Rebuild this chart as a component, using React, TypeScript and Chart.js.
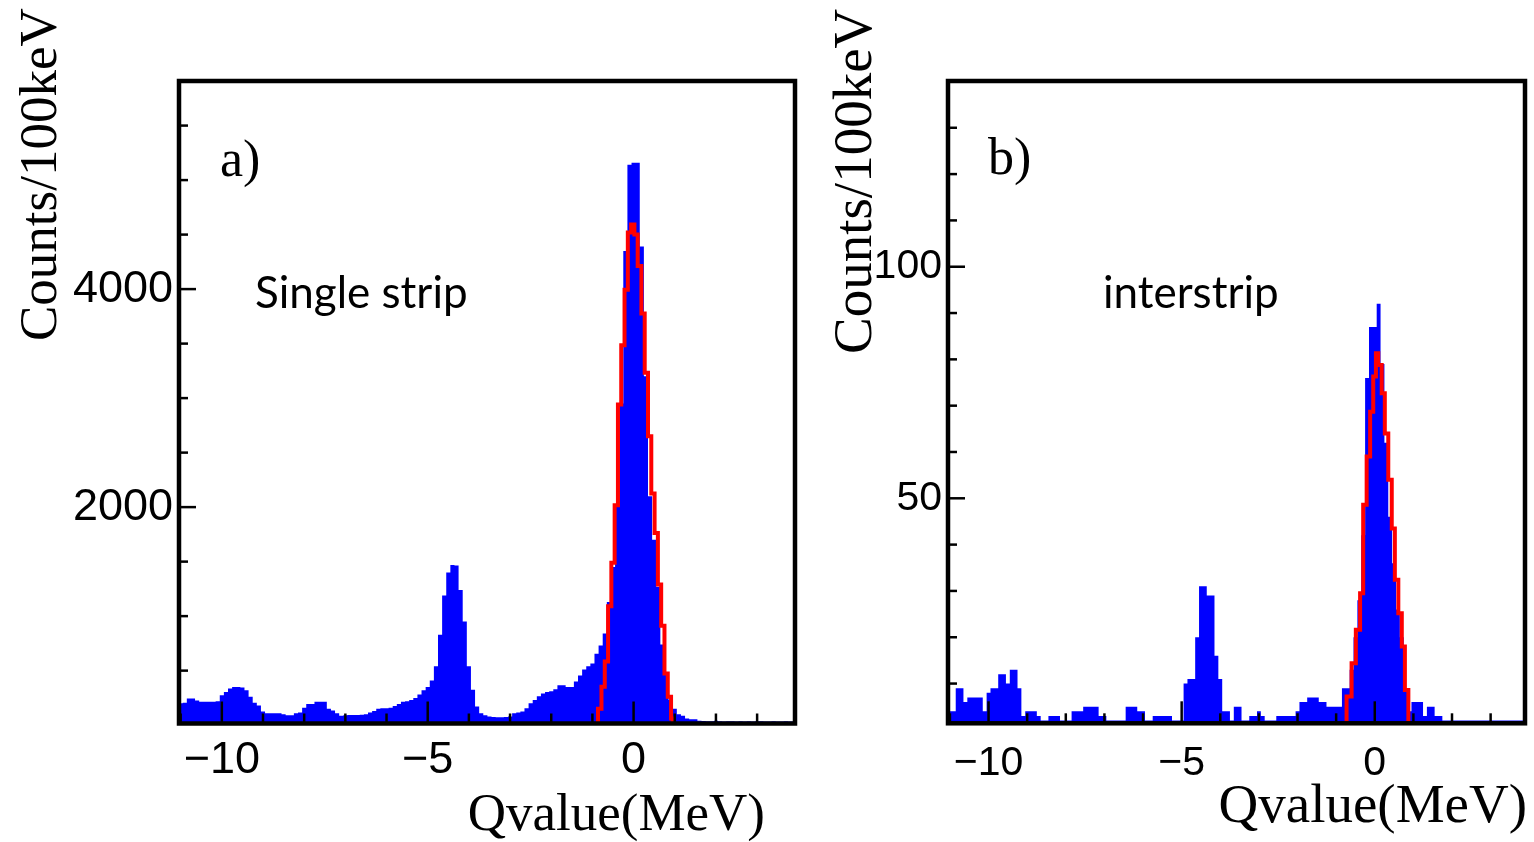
import React, { useEffect, useRef } from "react";
import { Chart, registerables } from "chart.js";

Chart.register(...registerables);

// ---------------- data ----------------
// histogram binning (MeV): 150 bins of 100 keV, first bin starts at BIN_LOW_MEV
const BIN_LOW_MEV = -11.05;
const BIN_WIDTH_MEV = 0.1;

// a) single strip, counts per 100 keV (bin centres -11.0 ... 3.9)
const COUNTS_SINGLE_STRIP = [
  200, 205, 245, 245, 225, 215, 215, 215, 215, 220,
  275, 305, 335, 350, 350, 345, 320, 260, 205, 180,
  125, 110, 110, 110, 110, 100, 90, 90, 110, 115,
  160, 195, 195, 215, 215, 215, 150, 135, 110, 85,
  90, 92, 92, 92, 95, 100, 115, 130, 150, 155,
  155, 160, 175, 195, 215, 220, 230, 250, 280, 320,
  350, 410, 540, 830, 1190, 1400, 1470, 1465, 1240, 950,
  540, 325, 170, 110, 90, 80, 75, 72, 72, 75,
  80, 110, 115, 125, 155, 200, 230, 265, 290, 305,
  310, 330, 365, 365, 350, 350, 400, 455, 510, 540,
  565, 655, 730, 840, 1130, 1450, 2000, 2950, 4350, 5140,
  5160, 5160, 4390, 3200, 2100, 1700, 1270, 740, 470, 230,
  150, 100, 85, 60, 55, 55, 40, 38, 36, 35,
  40, 35, 33, 35, 36, 34, 35, 33, 35, 34,
  36, 35, 33, 34, 35, 33, 34, 35, 33, 34,
];

// b) interstrip, counts per 100 keV
const COUNTS_INTERSTRIP = [
  4, 4, 9, 9, 6, 7, 7, 7, 7, 4,
  8, 9, 9, 12, 12, 10, 13, 13, 9, 3,
  4, 4, 4, 3, 2, 2, 3, 3, 3, 2,
  2, 2, 4, 4, 4, 5, 5, 5, 5, 3,
  3, 2, 2, 2, 2, 2, 5, 5, 5, 4,
  4, 2, 2, 3, 3, 3, 3, 3, 2, 2,
  2, 10, 11, 11, 20, 31, 31, 29, 29, 16,
  11, 4, 4, 2, 5, 5, 2, 2, 3, 3,
  4, 3, 2, 2, 2, 3, 3, 3, 3, 3,
  4, 6, 6, 7, 7, 7, 6, 6, 5, 5,
  5, 5, 9, 9, 13, 20, 28, 42, 76, 87,
  87, 92, 79, 62, 46, 36, 26, 20, 9, 4,
  6, 6, 6, 3, 5, 5, 3, 3, 2, 2,
  2, 2, 2, 2, 2, 2, 2, 2, 2, 2,
  2, 2, 2, 2, 2, 2, 2, 2, 2, 2,
];

// red fit curves (step left edges in MeV, value)
const FIT_SINGLE_X = [-0.99, -0.865, -0.78, -0.7, -0.62, -0.54, -0.46, -0.38, -0.3, -0.22, -0.14, -0.06, 0.02, 0.1, 0.19, 0.27, 0.35, 0.43, 0.51, 0.59, 0.67, 0.75, 0.83, 0.91, 0.95];
const FIT_SINGLE_Y = [0, 150, 351, 584, 1091, 1490, 2017, 2941, 3485, 3994, 4519, 4592, 4501, 4211, 3776, 3232, 2651, 2125, 1762, 1291, 911, 474, 260, 60, 0];

const FIT_INTER_X = [-0.86, -0.73, -0.6, -0.49, -0.38, -0.3, -0.21, -0.12, -0.04, 0.03, 0.09, 0.18, 0.26, 0.35, 0.44, 0.52, 0.61, 0.7, 0.78, 0.87];
const FIT_INTER_Y = [0, 7.2, 14.4, 21.6, 29.5, 48.6, 59, 68.7, 76.3, 81.3, 78.8, 72.7, 64, 54, 43.5, 32.4, 25.2, 18, 8.6, 0];

// tick labels
const X_TICK_LABELS = [-10, -5, 0];
const Y_TICK_LABELS_SINGLE = [2000, 4000];
const Y_TICK_LABELS_INTER = [50, 100];

const Y_TITLE = "Counts/100keV";
const X_TITLE = "Qvalue(MeV)";

// ---------------- helpers ----------------
function histPoints(counts: number[]) {
  const pts = counts.map((c, i) => ({ x: BIN_LOW_MEV + i * BIN_WIDTH_MEV, y: c }));
  pts.push({ x: BIN_LOW_MEV + counts.length * BIN_WIDTH_MEV, y: counts[counts.length - 1] });
  return pts;
}
function fitPoints(xs: number[], ys: number[]) {
  return xs.map((x, i) => ({ x, y: ys[i] }));
}
function fmt(v: number) {
  const r = Math.round(v);
  return r < 0 ? "\u2212" + Math.abs(r) : String(r);
}
function stepTicks(min: number, max: number, step: number) {
  const out: { value: number }[] = [];
  for (let k = Math.ceil(min / step); k * step <= max + 1e-9; k++) out.push({ value: k * step });
  return out;
}
const near = (list: number[], v: number) => list.some((m) => Math.abs(m - v) < 1e-6);

const rootStyle = {
  id: "rootStyle",
  afterDatasetsDraw(chart: any, _a: any, o: any) {
    const { ctx, chartArea: a } = chart;
    const xs = chart.scales.x;
    const ys = chart.scales.y;
    ctx.save();
    ctx.strokeStyle = "#000";
    ctx.lineWidth = o.tickWidth;
    for (const t of ys.ticks) {
      const p = ys.getPixelForValue(t.value);
      const major = near(o.yMajor, t.value);
      ctx.beginPath();
      ctx.moveTo(a.left, p);
      ctx.lineTo(a.left + (major ? o.yMajorLen : o.yMinorLen), p);
      ctx.stroke();
    }
    for (const t of xs.ticks) {
      const p = xs.getPixelForValue(t.value);
      const major = near(X_TICK_LABELS, t.value);
      ctx.beginPath();
      ctx.moveTo(p, a.bottom);
      ctx.lineTo(p, a.bottom - (major ? o.xMajorLen : o.xMinorLen));
      ctx.stroke();
    }
    ctx.lineWidth = o.frameWidth;
    ctx.strokeRect(a.left, a.top, a.right - a.left, a.bottom - a.top);
    ctx.restore();
  },
  afterDraw(chart: any, _a: any, o: any) {
    const ctx = chart.ctx;
    ctx.save();
    ctx.fillStyle = "#000";
    ctx.textBaseline = "alphabetic";
    // y title (rotated, reads bottom to top)
    ctx.save();
    ctx.font = `${o.yTitleSize}px "Liberation Serif"`;
    ctx.textAlign = "left";
    ctx.translate(o.yTitleX, o.yTitleY);
    ctx.rotate(-Math.PI / 2);
    ctx.fillText(Y_TITLE, 0, 0);
    ctx.restore();
    // x title
    ctx.font = `${o.xTitleSize}px "Liberation Serif"`;
    ctx.textAlign = "right";
    ctx.fillText(X_TITLE, o.xTitleRight, o.xTitleBase);
    // panel tag
    ctx.font = `${o.tagSize}px "Liberation Serif"`;
    ctx.textAlign = "left";
    ctx.fillText(o.tag, o.tagX, o.tagBase);
    // annotation
    ctx.font = `${o.noteSize}px Lato`;
    ctx.fillText(o.note, o.noteX, o.noteBase);
    ctx.restore();
  },
};

type PanelCfg = {
  canvasLeft: number;
  canvasW: number;
  area: { left: number; right: number; top: number; bottom: number };
  xMin: number;
  xMax: number;
  yMin: number;
  yMax: number;
  yStep: number;
  yLabels: number[];
  counts: number[];
  fitX: number[];
  fitY: number[];
  tickFont: number;
  xTickPad: number;
  text: any;
};

const H = 842;

const PANELS: PanelCfg[] = [
  {
    canvasLeft: 0,
    canvasW: 830,
    area: { left: 179, right: 795, top: 81, bottom: 723.5 },
    xMin: -11.04,
    xMax: 3.92,
    yMin: 15,
    yMax: 5909,
    yStep: 500,
    yLabels: Y_TICK_LABELS_SINGLE,
    counts: COUNTS_SINGLE_STRIP,
    fitX: FIT_SINGLE_X,
    fitY: FIT_SINGLE_Y,
    tickFont: 45,
    xTickPad: 10,
    text: {
      yTitleSize: 53, yTitleX: 56, yTitleY: 341,
      xTitleSize: 53, xTitleRight: 765, xTitleBase: 830,
      tag: "a)", tagSize: 52, tagX: 220, tagBase: 176,
      note: "Single strip", noteSize: 44, noteX: 255, noteBase: 308,
    },
  },
  {
    canvasLeft: 830,
    canvasW: 704,
    area: { left: 948, right: 1525, top: 81, bottom: 723.3 },
    xMin: -11.05,
    xMax: 3.89,
    yMin: 1.42,
    yMax: 140.1,
    yStep: 10,
    yLabels: Y_TICK_LABELS_INTER,
    counts: COUNTS_INTERSTRIP,
    fitX: FIT_INTER_X,
    fitY: FIT_INTER_Y,
    tickFont: 41,
    xTickPad: 16,
    text: {
      yTitleSize: 55, yTitleX: 871, yTitleY: 354,
      xTitleSize: 55, xTitleRight: 1527, xTitleBase: 822,
      tag: "b)", tagSize: 52, tagX: 988, tagBase: 174,
      note: "interstrip", noteSize: 44, noteX: 1103, noteBase: 308,
    },
  },
];

function Panel({ cfg }: { cfg: PanelCfg }) {
  const ref = useRef<HTMLCanvasElement>(null);
  useEffect(() => {
    if (!ref.current) return;
    const L = cfg.canvasLeft;
    const t = cfg.text;
    const chart = new Chart(ref.current, {
      type: "line",
      data: {
        datasets: [
          {
            label: "fit",
            data: fitPoints(cfg.fitX, cfg.fitY),
            stepped: "before",
            borderColor: "#ff0000",
            borderWidth: 4,
            pointRadius: 0,
            fill: false,
          },
          {
            label: "counts",
            data: histPoints(cfg.counts),
            stepped: "before",
            borderColor: "rgba(0,0,0,0)",
            borderWidth: 0,
            backgroundColor: "#0000ff",
            pointRadius: 0,
            fill: "start",
          },
        ],
      },
      options: {
        responsive: false,
        animation: false,
        devicePixelRatio: 1,
        layout: {
          padding: {
            left: 0,
            top: cfg.area.top,
            right: L + cfg.canvasW - cfg.area.right,
            bottom: 0,
          },
        },
        plugins: {
          legend: { display: false },
          tooltip: { enabled: false },
          rootStyle: {
            yMajor: cfg.yLabels,
            tickWidth: 2.5,
            frameWidth: 4.5,
            yMajorLen: 17,
            yMinorLen: 9,
            xMajorLen: 22,
            xMinorLen: 10,
            yTitleSize: t.yTitleSize,
            yTitleX: t.yTitleX - L,
            yTitleY: t.yTitleY,
            xTitleSize: t.xTitleSize,
            xTitleRight: t.xTitleRight - L,
            xTitleBase: t.xTitleBase,
            tag: t.tag,
            tagSize: t.tagSize,
            tagX: t.tagX - L,
            tagBase: t.tagBase,
            note: t.note,
            noteSize: t.noteSize,
            noteX: t.noteX - L,
            noteBase: t.noteBase,
          },
        } as any,
        scales: {
          x: {
            type: "linear",
            min: cfg.xMin,
            max: cfg.xMax,
            grid: { display: false, drawTicks: false },
            border: { display: false },
            afterBuildTicks: (s: any) => {
              s.ticks = stepTicks(cfg.xMin, cfg.xMax, 1);
            },
            ticks: {
              autoSkip: false,
              maxRotation: 0,
              minRotation: 0,
              padding: cfg.xTickPad,
              color: "#000",
              font: { family: "Liberation Sans", size: cfg.tickFont },
              callback: (v: any) => (near(X_TICK_LABELS, Number(v)) ? fmt(Number(v)) : ""),
            },
            afterFit: (s: any) => {
              s.height = H - cfg.area.bottom;
            },
          },
          y: {
            type: "linear",
            min: cfg.yMin,
            max: cfg.yMax,
            grid: { display: false, drawTicks: false },
            border: { display: false },
            afterBuildTicks: (s: any) => {
              s.ticks = stepTicks(cfg.yMin, cfg.yMax, cfg.yStep);
            },
            ticks: {
              autoSkip: false,
              padding: 6,
              color: "#000",
              font: { family: "Liberation Sans", size: cfg.tickFont },
              callback: (v: any) => (near(cfg.yLabels, Number(v)) ? String(Math.round(Number(v))) : ""),
            },
            afterFit: (s: any) => {
              s.width = cfg.area.left - L;
            },
          },
        },
      },
      plugins: [rootStyle as any],
    });
    return () => chart.destroy();
  }, [cfg]);
  return (
    <canvas
      ref={ref}
      width={cfg.canvasW}
      height={H}
      style={{ position: "absolute", left: cfg.canvasLeft, top: 0, width: cfg.canvasW, height: H }}
    />
  );
}

export default function App() {
  return (
    <div
      style={{
        position: "fixed",
        left: 0,
        top: 0,
        width: 1534,
        height: H,
        background: "#ffffff",
        overflow: "hidden",
      }}
    >
      {PANELS.map((p, i) => (
        <Panel key={i} cfg={p} />
      ))}
    </div>
  );
}
